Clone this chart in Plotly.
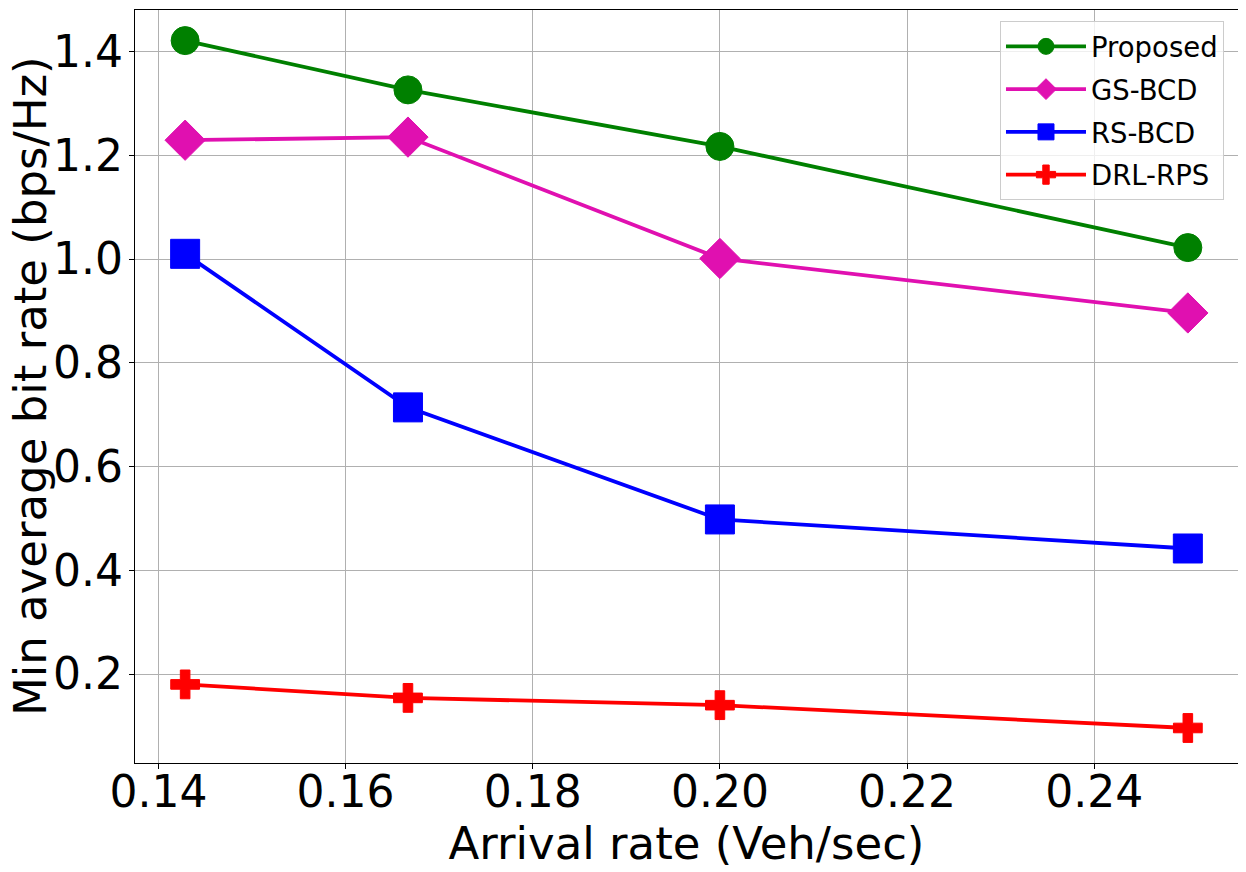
import plotly.graph_objects as go

x_rates = [1/7, 1/6, 0.20, 0.25]
proposed = [1.421, 1.326, 1.217, 1.022]
gs_bcd = [1.229, 1.235, 1.001, 0.896]
rs_bcd = [1.010, 0.714, 0.498, 0.442]
drl_rps = [0.180, 0.154, 0.140, 0.096]

series_names = ["Proposed", "GS-BCD", "RS-BCD", "DRL-RPS"]
x_ticks = [0.14, 0.16, 0.18, 0.20, 0.22, 0.24]
y_ticks = [0.2, 0.4, 0.6, 0.8, 1.0, 1.2, 1.4]
x_title = "Arrival rate (Veh/sec)"
y_title = "Min average bit rate (bps/Hz)"

styles = [
    dict(color="#008000", symbol="circle", size=28),
    dict(color="#e010b0", symbol="diamond", size=31),
    dict(color="#0000ff", symbol="square", size=29),
    dict(color="#ff0000", symbol="cross", size=24),
]

fig = go.Figure()
for name, ys, st in zip(series_names, [proposed, gs_bcd, rs_bcd, drl_rps], styles):
    fig.add_trace(go.Scatter(
        x=x_rates, y=ys, name=name, mode="lines+markers",
        line=dict(color=st["color"], width=3.8),
        marker=dict(symbol=st["symbol"], size=st["size"], color=st["color"],
                    line=dict(color=st["color"], width=1)),
        legendgroup=name,
    ))

axis_common = dict(
    showline=True, linecolor="black", linewidth=1.3, mirror=True,
    ticks="outside", ticklen=5, tickwidth=1.2, tickcolor="black",
    showgrid=True, gridcolor="#b0b0b0", gridwidth=1,
    zeroline=False, automargin=False,
    tickfont=dict(size=44, color="black", family="DejaVu Sans"),
)

fig.update_layout(
    width=1246, height=872,
    paper_bgcolor="white", plot_bgcolor="white",
    margin=dict(l=126.5, r=16, t=1.5, b=117, pad=0),
    font=dict(family="DejaVu Sans", color="black"),
    xaxis=dict(axis_common, range=[0.13750, 0.25536], tickvals=x_ticks,
               ticktext=[f"{v:.2f}" for v in x_ticks], ticklabelstandoff=-15,
               title=dict(text=x_title, font=dict(size=45), standoff=0)),
    yaxis=dict(axis_common, range=[0.0285, 1.4800], tickvals=y_ticks,
               ticktext=[f"{v:.1f}" for v in y_ticks], ticklabelstandoff=-3),
    legend=dict(
        x=0.9873, y=0.9854, xanchor="right", yanchor="top",
        bgcolor="rgba(255,255,255,0.8)", bordercolor="#cccccc", borderwidth=1,
        font=dict(size=27.5, color="black"), tracegroupgap=4, itemwidth=80,
    ),
    annotations=[dict(
        text=y_title, textangle=-90, xref="paper", yref="paper",
        x=-0.0947, y=0.5, xanchor="center", yanchor="middle", borderpad=0,
        showarrow=False, font=dict(size=45, color="black", family="DejaVu Sans"),
    )],
    showlegend=True,
)

fig.write_html("out.html")
